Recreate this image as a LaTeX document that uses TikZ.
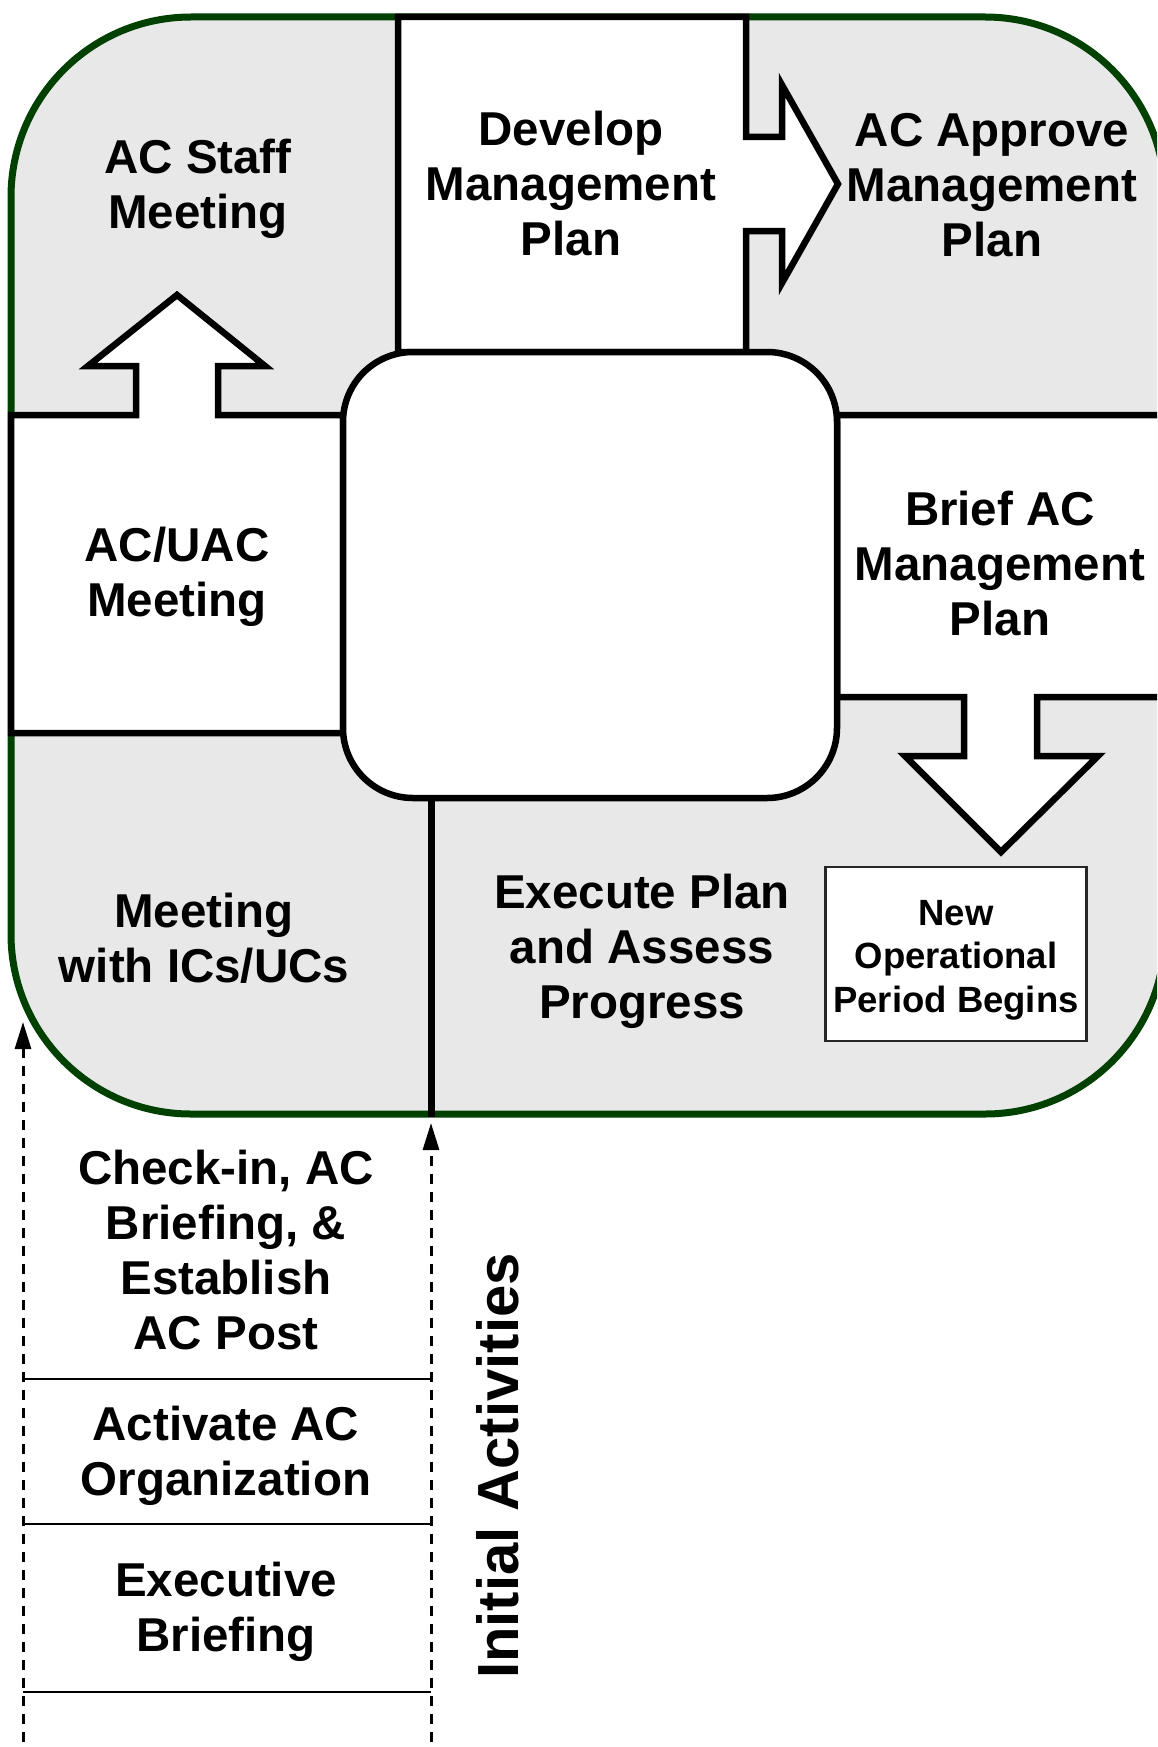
\documentclass[tikz,border=0pt]{standalone}
\usepackage{fontspec}
\setmainfont{Liberation Sans}
\usetikzlibrary{arrows.meta,positioning}
\definecolor{vertac}{RGB}{0, 64, 0}
\definecolor{grisac}{RGB}{232, 232, 232}

\tikzset{
  boite/.style={draw=black, line width=6.5pt, fill=white},
  titre/.style={font=\bfseries\fontsize{47.5}{55}\selectfont, align=center, inner sep=0pt},
  petit/.style={draw=black!85, line width=2.5pt, fill=white, align=center, inner sep=0pt,
    minimum width=261pt, minimum height=174pt, text height=124pt,
    font=\bfseries\fontsize{36.5}{43.5}\selectfont},
  pointille/.style={line width=3pt, dash pattern=on 10pt off 8pt,
    -{Triangle[length=27pt,width=16pt]}},
  trait/.style={line width=2.5pt}
}

\begin{document}
\begin{tikzpicture}[x=1pt,y=-1pt]
            \useasboundingbox (0,0) rectangle (1157,1747);
            \clip (0,0) rectangle (1157,1747);

            % Fond
            \draw[draw=vertac, line width=7pt, fill=grisac, rounded corners=180pt] (11,17) rectangle (1165,1114);

            % Boîtes avec flèches
            \draw[boite] (398,17) -- (746,17) -- (746,137) -- (782,137) -- (782,85) -- (838,184)
              -- (782,283) -- (782,231) -- (746,231) -- (746,352) -- (398,352) -- cycle;
            \draw[boite] (11,415) -- (136,415) -- (136,366) -- (88,366) -- (177,295) -- (265,366)
              -- (218,366) -- (218,415) -- (343,415) -- (343,733) -- (11,733) -- cycle;
            \draw[boite] (837,415) -- (1175,415) -- (1175,697) -- (1037,697) -- (1037,756) -- (1098,756)
              -- (1001,852) -- (905,756) -- (964,756) -- (964,697) -- (837,697) -- cycle;

            % Centre
            \node[boite, rounded corners=70pt, minimum width=494pt, minimum height=446pt] (centre) at (590,575) {};
            \coordinate (separ) at (431,1117);
            \draw[line width=7pt] (centre.south -| separ) -- (separ);

            % Textes
            \node[titre] (staff) at (198,189) {AC Staff\\Meeting};
            \node[titre] (develop) at (571,184) {Develop\\Management\\Plan};
            \node[titre] (approve) at (992,185) {AC Approve\\Management\\Plan};
            \node[titre] (uac) at (177,577) {AC/UAC\\Meeting};
            \node[titre] (brief) at (1000,564) {Brief AC\\Management\\Plan};
            \node[titre] (execute) at (642,951) {Execute Plan\\and Assess\\Progress};
            \node[titre] (icuc) at (204,938) {Meeting\\with ICs/UCs};
            \node[petit] (newop) at (956,954) {New\\Operational\\Period Begins};

            % Activités initiales
            \node[titre] (checkin) at (226,1250) {Check-in, AC\\Briefing, \&\\Establish\\AC Post};
            \node[titre] (activate) at (226,1456) {Activate AC\\Organization};
            \node[titre] (executive) at (226,1612) {Executive\\Briefing};
            \node[font=\bfseries\fontsize{58}{66}\selectfont, rotate=90, inner sep=0pt] (initial) at (498,1466) {Initial Activities};

            \foreach \y in {1379,1524,1692}
              \draw[trait] (23,\y) -- (431,\y);

            % Flèches
            \coordinate (piedg) at (23,1760);
            \coordinate (pointeg) at (23,1022);
            \coordinate (piedd) at (431,1760);
            \coordinate (pointed) at (431,1123);
            \draw[pointille] (piedg) -- (pointeg);
            \draw[pointille] (piedd) -- (pointed);
\end{tikzpicture}
\end{document}
